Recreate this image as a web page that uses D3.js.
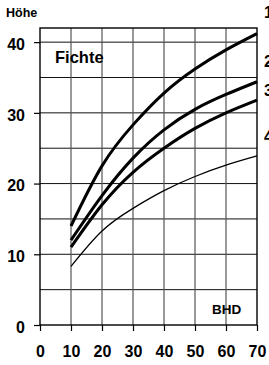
<!DOCTYPE html>
<html>
<head>
<meta charset="utf-8">
<script src="https://cdn.jsdelivr.net/npm/d3@7"></script>
<style>
  html, body { margin: 0; padding: 0; background: #fff; }
  svg { display: block; font-family: "Liberation Sans", Arial, sans-serif; font-weight: bold; }
</style>
</head>
<body>
<svg id="chart" width="269" height="365"></svg>
<script>
// Durchmesser (BHD) und Höhen der vier Bonitätskurven
const bhd = [10, 20, 30, 40, 50, 60, 70];
const kurve1 = [14.0, 22.5, 28.3, 32.8, 36.2, 38.9, 41.2];
const kurve2 = [12.0, 18.3, 23.6, 27.6, 30.5, 32.6, 34.4];
const kurve3 = [11.0, 17.0, 21.6, 25.0, 27.8, 30.0, 31.8];
const kurve4 = [8.3, 13.3, 16.5, 19.0, 21.0, 22.6, 23.9];
const kurven = [kurve1, kurve2, kurve3, kurve4];
const kurvenNamen = ["1", "2", "3", "4"];
const xTicks = [0, 10, 20, 30, 40, 50, 60, 70];
const yTicks = [0, 10, 20, 30, 40];

const svg = d3.select("#chart");

const x = d3.scaleLinear().domain([0, 70]).range([40, 257]);
const y = d3.scaleLinear().domain([0, 42]).range([325, 28]);

// Gitter
svg.append("g")
    .selectAll("line")
    .data(d3.range(5, 45, 5))
    .join("line")
    .attr("x1", x(0)).attr("x2", x(70))
    .attr("y1", d => y(d)).attr("y2", d => y(d))
    .attr("stroke", "#111")
    .attr("stroke-width", 1);

svg.append("g")
    .selectAll("line")
    .data(d3.range(10, 70, 10))
    .join("line")
    .attr("x1", d => x(d)).attr("x2", d => x(d))
    .attr("y1", y(0)).attr("y2", y(42))
    .attr("stroke", "#555")
    .attr("stroke-width", 1.2);

// Rahmen
svg.append("rect")
    .attr("x", x(0)).attr("y", y(42))
    .attr("width", x(70) - x(0)).attr("height", y(0) - y(42))
    .attr("fill", "none")
    .attr("stroke", "#000")
    .attr("stroke-width", 1.4);

// Achsen
const yAxis = svg.append("g")
    .attr("transform", `translate(${x(0)},0)`)
    .call(d3.axisLeft(y).tickValues(yTicks).tickSize(6).tickFormat(d3.format("d")));
yAxis.select(".domain").remove();
yAxis.selectAll("line").attr("stroke", "#000").attr("stroke-width", 1.2);
yAxis.selectAll("text")
    .attr("font-size", 16).attr("font-weight", "bold").attr("font-family", "Liberation Sans, Arial, sans-serif")
    .attr("fill", "#000")
    .attr("x", -15).attr("dy", 7.3);

const xAxis = svg.append("g")
    .attr("transform", `translate(0,${y(0)})`)
    .call(d3.axisBottom(x).tickValues(xTicks).tickSize(6).tickFormat(d3.format("d")));
xAxis.select(".domain").remove();
xAxis.selectAll("line").attr("stroke", "#000").attr("stroke-width", 1.2);
xAxis.selectAll("text")
    .attr("font-size", 16).attr("font-weight", "bold").attr("font-family", "Liberation Sans, Arial, sans-serif")
    .attr("fill", "#000")
    .attr("y", 32).attr("dy", 0);

// Kurven
const line = d3.line()
    .x((d, i) => x(bhd[i]))
    .y(d => y(d))
    .curve(d3.curveNatural);

svg.append("g")
    .selectAll("path")
    .data(kurven)
    .join("path")
    .attr("d", d => line(d))
    .attr("fill", "none")
    .attr("stroke", "#000")
    .attr("stroke-width", (d, i) => i < 3 ? 3 : 1.3)
    .attr("stroke-linecap", "butt");

// Beschriftungen
svg.append("text").attr("x", 6).attr("y", 17).attr("font-size", 12.5).text("Höhe");
svg.append("text").attr("x", 55).attr("y", 63).attr("font-size", 16.5).text("Fichte");
svg.append("text").attr("x", 212).attr("y", 314).attr("font-size", 13.5).text("BHD");

const labelHoehe = [43.4, 36.5, 32.4, 25.9];
svg.append("g")
    .selectAll("text")
    .data(kurvenNamen)
    .join("text")
    .attr("x", 264)
    .attr("y", (d, i) => y(labelHoehe[i]))
    .attr("font-size", 16)
    .text(d => d);
</script>
</body>
</html>
